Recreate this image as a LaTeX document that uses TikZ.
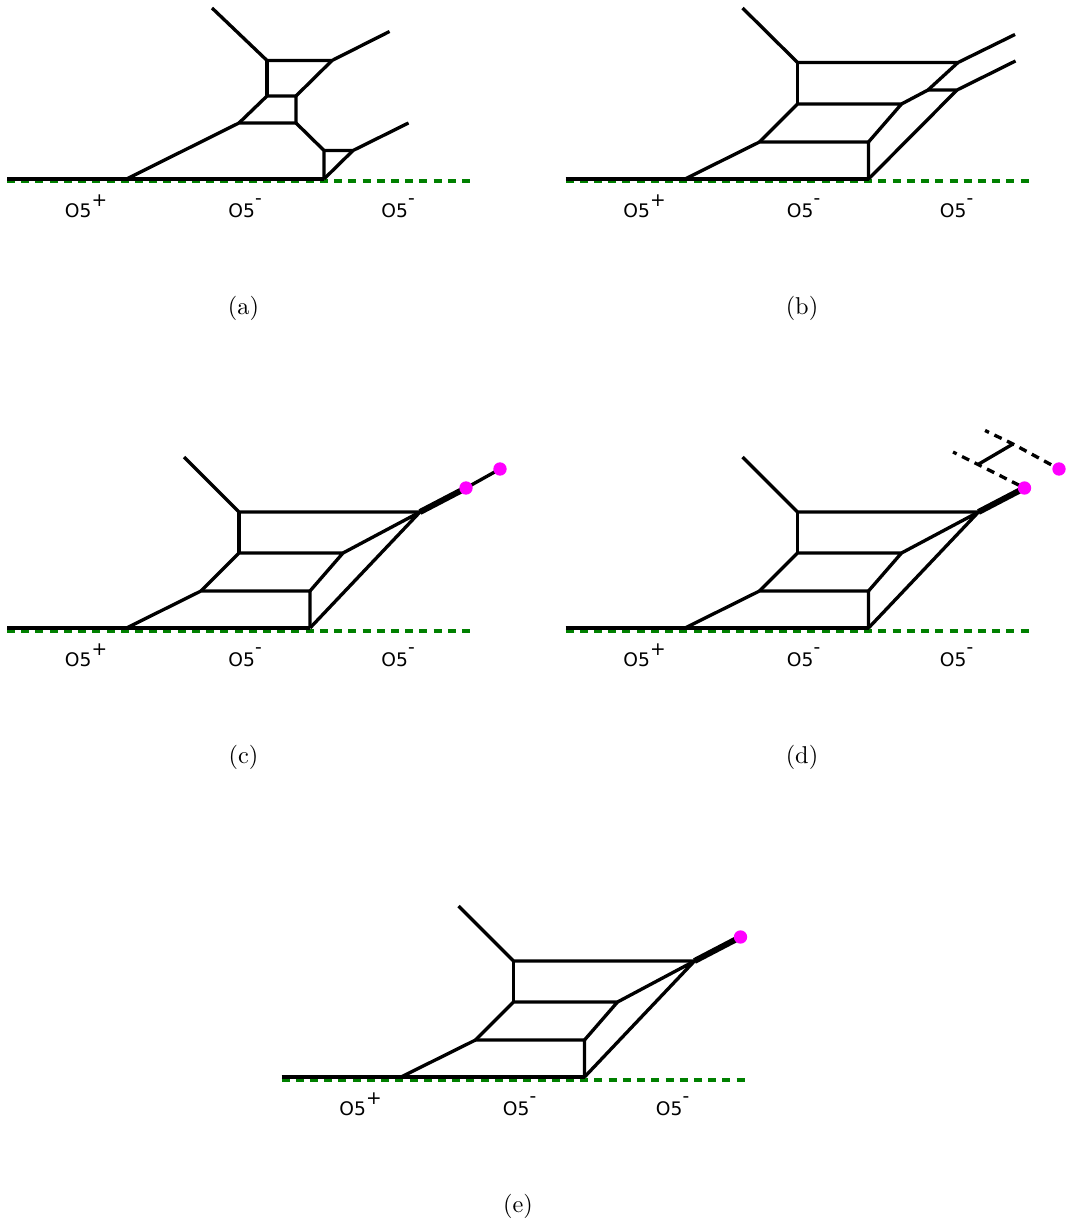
\documentclass[tikz,border=0pt]{standalone}
\usepackage{fontspec}
\newfontfamily\labelfont{DejaVu Sans}
\definecolor{braneGreen}{RGB}{0,128,0}
\definecolor{dotMagenta}{RGB}{255,0,255}
\tikzset{
  web/.style={line width=1.5pt,black,line cap=butt,line join=round},
  thickweb/.style={line width=2.7pt,black},
  orient/.style={line width=1.8pt,braneGreen,dash pattern=on 3.6pt off 2.8pt},
  ghostlow/.style={line width=1.5pt,black,dash pattern=on 3.6pt off 2.7pt,dash phase=3.6pt},
  ghosthigh/.style={line width=1.5pt,black,dash pattern=on 3.6pt off 2.7pt,dash phase=2.25pt},
  dotm/.style={circle,fill=dotMagenta,inner sep=0pt,minimum size=6pt},
  oplane/.style={anchor=base west,inner sep=0pt,font=\labelfont\fontsize{8.4}{10}\selectfont},
  caption/.style={inner sep=0pt,font=\fontsize{10.95}{13}\selectfont}
}
\newcommand{\plabel}{O5\raisebox{5pt}{+}}
\newcommand{\mlabel}{O5\raisebox{6pt}{-}}
% orientifold line and its three labels
\newcommand{\orientline}{%
  \coordinate (gl) at (7,181.5); \coordinate (gr) at (470,181.5);
  \draw[orient] (gl) -- (gr);
  \node[oplane] (lp) at (64.5,217.5) {\plabel};
  \node[oplane] (lm) at (228,217.5) {\mlabel};
  \node[oplane] (lr) at (381,217.5) {\mlabel};
}
% the common web of panels (c), (d), (e)
\newcommand{\commonweb}{%
  \coordinate (bl) at (7,179);
  \coordinate (A) at (126.5,179);
  \coordinate (B) at (310,179);
  \coordinate (C) at (201,142);
  \coordinate (D) at (310,142);
  \coordinate (E) at (239,104);
  \coordinate (F) at (343,104);
  \coordinate (G) at (239,63);
  \coordinate (H) at (420,63);
  \coordinate (T) at (184,8);
  \coordinate (P) at (466,39);
  \draw[web] (bl) -- (A) -- (B);
  \draw[web] (A) -- (C) -- (D) -- (B);
  \draw[web] (C) -- (E) -- (F) -- (D);
  \draw[web] (T) -- (G) -- (H);
  \draw[web] (G) -- (E);
  \draw[web] (F) -- (H) -- (B);
  \draw[thickweb] (H) -- (P);
}
\begin{document}
\begin{tikzpicture}[x=0.45pt,y=-0.45pt]
\useasboundingbox (0,0) rectangle (1067,1221);

% (a)
\begin{scope}[name prefix=a-]
  \orientline
  \coordinate (bl) at (7,179);
  \coordinate (A) at (126.5,179);
  \coordinate (B) at (324,179);
  \coordinate (C) at (239,123);
  \coordinate (D) at (296,123);
  \coordinate (E) at (267,96);
  \coordinate (F) at (296,96);
  \coordinate (G) at (267,60.5);
  \coordinate (H) at (332,60.5);
  \coordinate (T) at (212,8);
  \coordinate (U) at (389.5,31.5);
  \coordinate (J) at (324,150.5);
  \coordinate (K) at (353,150.5);
  \coordinate (V) at (408.5,123);
  \draw[web] (bl) -- (A) -- (B);
  \draw[web] (A) -- (C) -- (D);
  \draw[web] (C) -- (E) -- (F) -- (D);
  \draw[web] (T) -- (G) -- (H) -- (U);
  \draw[web] (G) -- (E);
  \draw[web] (H) -- (F);
  \draw[web] (D) -- (J) -- (B);
  \draw[web] (J) -- (K) -- (V);
  \draw[web] (K) -- (B);
  \node[caption] (capa) at (243.5,308) {(a)};
\end{scope}

% (b)
\begin{scope}[shift={(558.5,0)},name prefix=b-]
  \orientline
  \coordinate (bl) at (7,179);
  \coordinate (A) at (126.5,179);
  \coordinate (B) at (310,179);
  \coordinate (C) at (201,142);
  \coordinate (D) at (310,142);
  \coordinate (E) at (239,104);
  \coordinate (F) at (343,104);
  \coordinate (G) at (239,62.5);
  \coordinate (H) at (399.5,62.5);
  \coordinate (T) at (184,8);
  \coordinate (U) at (456.5,34.5);
  \coordinate (J) at (369.5,90);
  \coordinate (K) at (398.5,90);
  \coordinate (V) at (457,61);
  \draw[web] (bl) -- (A) -- (B);
  \draw[web] (A) -- (C) -- (D) -- (B);
  \draw[web] (C) -- (E) -- (F) -- (D);
  \draw[web] (T) -- (G) -- (H) -- (U);
  \draw[web] (G) -- (E);
  \draw[web] (F) -- (J) -- (H);
  \draw[web] (J) -- (K) -- (V);
  \draw[web] (K) -- (B);
  \node[caption] (capb) at (243.5,308) {(b)};
\end{scope}

% (c)
\begin{scope}[shift={(0,449)},name prefix=c-]
  \orientline
  \commonweb
  \coordinate (Q) at (500,20);
  \draw[web] (P) -- (Q);
  \node[dotm] (dp) at (P) {};
  \node[dotm] (dq) at (Q) {};
  \node[caption] (capc) at (243.5,308) {(c)};
\end{scope}

% (d)
\begin{scope}[shift={(558.5,449)},name prefix=d-]
  \orientline
  \commonweb
  \coordinate (Q) at (500.5,20);
  \coordinate (R) at (419.5,15.5);
  \coordinate (S) at (394.5,3);
  \coordinate (M) at (454.5,-5);
  \coordinate (N) at (426.5,-18.5);
  \draw[ghostlow] (P) -- (R) -- (S);
  \draw[ghosthigh] (Q) -- (M) -- (N);
  \draw[web] (R) -- (M);
  \node[dotm] (dp) at (P) {};
  \node[dotm] (dq) at (Q) {};
  \node[caption] (capd) at (243.5,308) {(d)};
\end{scope}

% (e)
\begin{scope}[shift={(274.5,898)},name prefix=e-]
  \orientline
  \commonweb
  \node[dotm] (dp) at (P) {};
  \node[caption] (cape) at (243.5,308) {(e)};
\end{scope}
\end{tikzpicture}
\end{document}
